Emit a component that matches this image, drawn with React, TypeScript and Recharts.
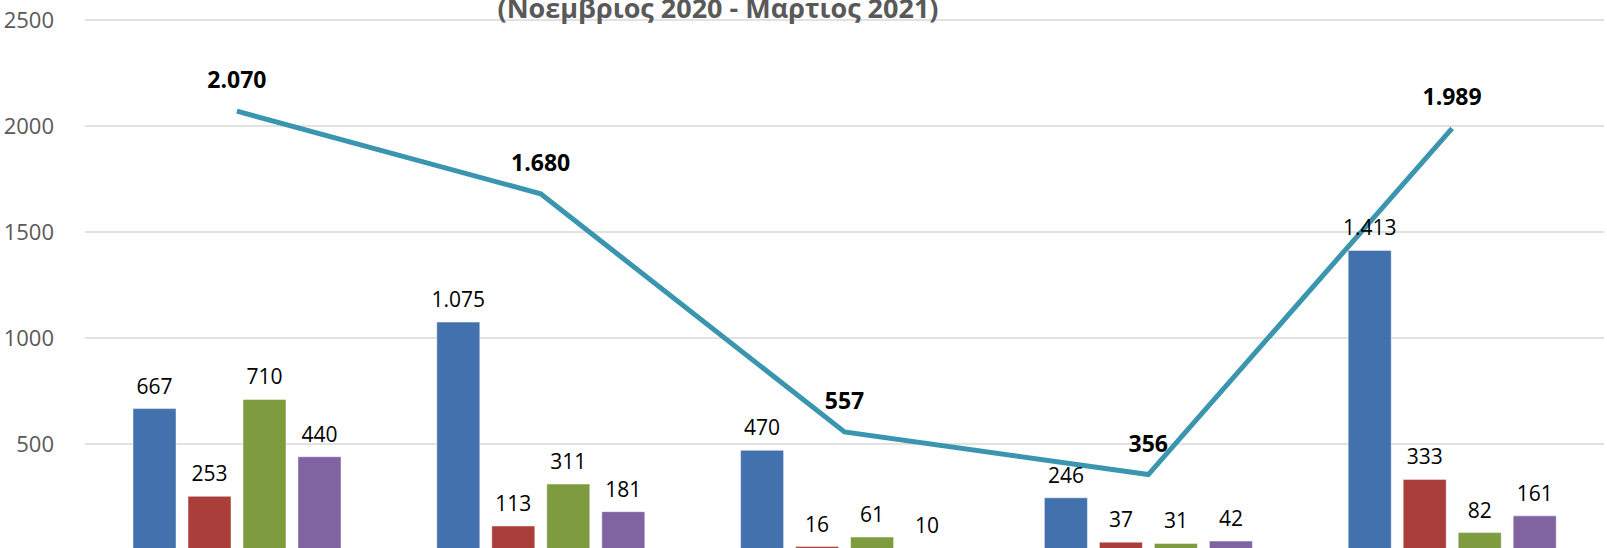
import React from 'react';
import { ComposedChart, Bar, Line, XAxis, YAxis, CartesianGrid, LabelList } from 'recharts';

const months = ['Νοέμβριος 2020', 'Δεκέμβριος 2020', 'Ιανουάριος 2021', 'Φεβρουάριος 2021', 'Μάρτιος 2021'];
const seriesA = [667, 1075, 470, 246, 1413];
const seriesB = [253, 113, 16, 37, 333];
const seriesC = [710, 311, 61, 31, 82];
const seriesD = [440, 181, 10, 42, 161];
const totals = [2070, 1680, 557, 356, 1989];
const yTicks = [0, 500, 1000, 1500, 2000, 2500];

const data = months.map((m, i) => ({
  month: m,
  a: seriesA[i],
  b: seriesB[i],
  c: seriesC[i],
  d: seriesD[i],
  total: totals[i],
}));

const font = '"Open Sans", sans-serif';

// greek style thousands separator: 1075 -> 1.075
const fmt = (v: any) => String(v).replace(/\B(?=(\d{3})+(?!\d))/g, '.');

const bars = [
  { key: 'a', color: '#4271ae' },
  { key: 'b', color: '#aa3e3b' },
  { key: 'c', color: '#7e9c3f' },
  { key: 'd', color: '#8064a1' },
];

const App: React.FC = () => {
  return (
    <div style={{ position: 'absolute', top: 0, left: 0, width: 1607, height: 548, overflow: 'hidden', background: '#fff' }}>
      <ComposedChart
        width={1607}
        height={560}
        data={data}
        margin={{ top: 20, right: 3, left: 0, bottom: 10 }}
        barGap={12}
      >
        <CartesianGrid vertical={false} stroke="#d9d9d9" strokeWidth={1.5} />
        <XAxis dataKey="month" hide />
        <YAxis
          domain={[0, 2500]}
          ticks={yTicks}
          width={85}
          axisLine={false}
          tickLine={false}
          tickSize={0}
          tickMargin={31}
          tick={{ fill: '#595959', fontSize: 22, fontFamily: font }}
        />
        {bars.map((b) => (
          <Bar key={b.key} dataKey={b.key} fill={b.color} barSize={43} stroke="#ffffff" strokeOpacity={0.45} isAnimationActive={false}>
            <LabelList dataKey={b.key} position="top" offset={15} formatter={fmt} style={{ fill: '#000', fontSize: 21, fontFamily: font }} />
          </Bar>
        ))}
        <Line dataKey="total" stroke="#3a96ae" strokeWidth={5} dot={false} isAnimationActive={false}>
          <LabelList dataKey="total" position="top" offset={23} formatter={fmt} style={{ fill: '#000', fontSize: 23, fontWeight: 'bold', fontFamily: font }} />
        </Line>
      </ComposedChart>
      <svg width={1607} height={40} style={{ position: 'absolute', top: 0, left: 0 }}>
        <text x={718} y={18} textAnchor="middle" fill="#595959" fontSize={27} fontWeight="bold" fontFamily={font}>
          (Νοεμβριος 2020 - Μαρτιος 2021)
        </text>
      </svg>
    </div>
  );
};

export default App;
